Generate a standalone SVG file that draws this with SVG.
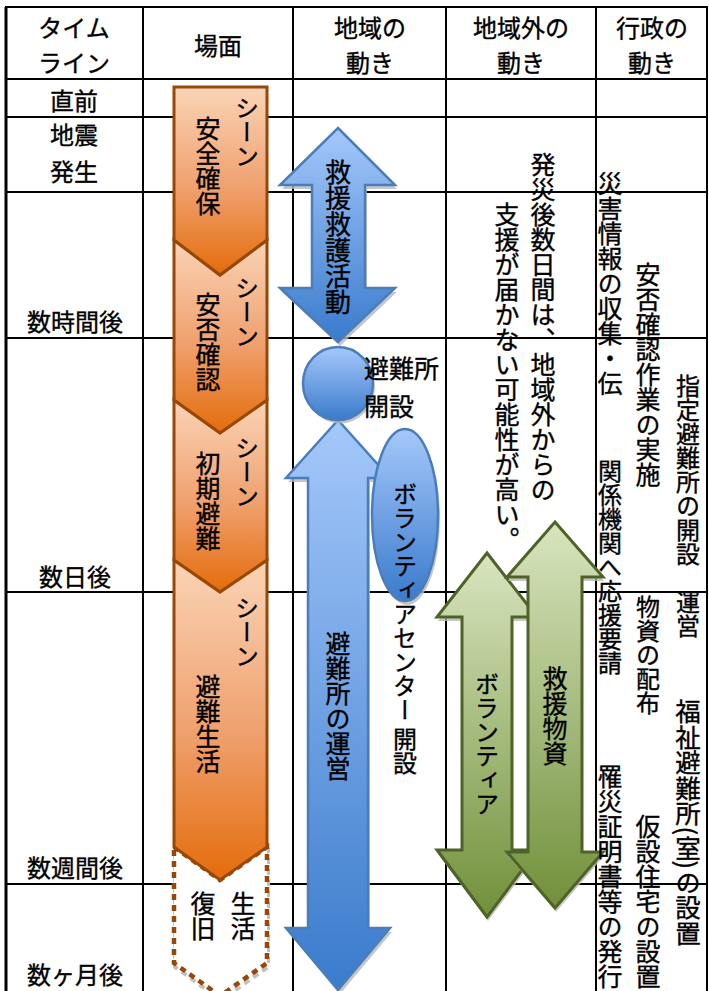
<svg xmlns="http://www.w3.org/2000/svg" width="709" height="991" viewBox="0 0 709 991">
<style>
text{font-family:"Noto Sans CJK JP","Noto Sans CJK SC",sans-serif;fill:#000;stroke:#000;stroke-width:0.35}
.h{font-size:24px;text-anchor:middle;dominant-baseline:central}
.v{writing-mode:vertical-rl;font-size:25px}
.grid line{stroke:#000;stroke-width:2}
.chev{fill:url(#og);stroke:#974706;stroke-width:3;stroke-linejoin:miter}
.blue{fill:url(#bg);stroke:#4a7ebb;stroke-width:2.5}
.green{fill:url(#gg);stroke:#4f6228;stroke-width:3}
.sh{fill:#b8b8b8;opacity:0.8}
</style>
<defs>
<linearGradient id="og" x1="0" y1="0" x2="0" y2="1">
<stop offset="0" stop-color="#fad4b6"/><stop offset="0.55" stop-color="#ef9f6c"/><stop offset="1" stop-color="#e46c0a"/>
</linearGradient>
<linearGradient id="bg" x1="0" y1="0" x2="0" y2="1">
<stop offset="0" stop-color="#a5c8fa"/><stop offset="1" stop-color="#3a7bcc"/>
</linearGradient>
<linearGradient id="gg" x1="0" y1="0" x2="0" y2="1">
<stop offset="0" stop-color="#d8e5bf"/><stop offset="1" stop-color="#71903a"/>
</linearGradient>
</defs>
<rect width="709" height="991" fill="#fff"/>
<g id="table" class="grid">
<line x1="6" y1="7" x2="6" y2="991" style="stroke-width:3"/>
<line x1="143" y1="7" x2="143" y2="991"/>
<line x1="293" y1="7" x2="293" y2="991"/>
<line x1="446" y1="7" x2="446" y2="991"/>
<line x1="596" y1="7" x2="596" y2="991"/>
<line x1="707" y1="7" x2="707" y2="991"/>
<line x1="5" y1="7" x2="708" y2="7"/>
<line x1="5" y1="79" x2="708" y2="79"/>
<line x1="5" y1="117" x2="708" y2="117"/>
<line x1="5" y1="192" x2="708" y2="192"/>
<line x1="5" y1="338" x2="708" y2="338"/>
<line x1="5" y1="592" x2="708" y2="592"/>
<line x1="5" y1="884" x2="708" y2="884"/>
</g>
<g id="header">
<text class="h" x="74" y="26">タイム</text>
<text class="h" x="74" y="61">ライン</text>
<text class="h" x="218" y="44">場面</text>
<text class="h" x="370" y="26">地域の</text>
<text class="h" x="370" y="61">動き</text>
<text class="h" x="521" y="26">地域外の</text>
<text class="h" x="521" y="61">動き</text>
<text class="h" x="652" y="26">行政の</text>
<text class="h" x="652" y="61">動き</text>
</g>
<g id="timeline">
<text class="h" x="74" y="99">直前</text>
<text class="h" x="74" y="133">地震</text>
<text class="h" x="74" y="170">発生</text>
<text class="h" x="75" y="320">数時間後</text>
<text class="h" x="75" y="575">数日後</text>
<text class="h" x="75" y="866">数週間後</text>
<text class="h" x="75" y="973">数ヶ月後</text>
</g>
<g id="scene-5">
<path d="M174,847 L220,880 L267,847 L267,963 L220,996 L174,963 Z" fill="#fff" stroke="#c0c0c0" stroke-width="4" stroke-dasharray="6,5" transform="translate(1,4)"/>
<path d="M174,847 L220,880 L267,847 L267,963 L220,996 L174,963 Z" fill="#fff" stroke="#974706" stroke-width="4.5" stroke-dasharray="6,5"/>
<text class="v" x="243" y="891">生活</text>
<text class="v" x="203" y="891">復旧</text>
</g>
<g id="scene-4">
<path class="chev" d="M174,560 L220,592 L267,560 L267,847 L220,880 L174,847 Z"/>
<text class="v" x="247" y="596" style="font-size:24px">シーン</text>
<text class="v" x="208" y="674">避難生活</text>
</g>
<g id="scene-3">
<path class="chev" d="M174,400 L220,433 L267,400 L267,560 L220,592 L174,560 Z"/>
<text class="v" x="247" y="436" style="font-size:24px">シーン</text>
<text class="v" x="208" y="451">初期避難</text>
</g>
<g id="scene-2">
<path class="chev" d="M174,240 L220,275 L267,240 L267,400 L220,433 L174,400 Z"/>
<text class="v" x="247" y="276" style="font-size:24px">シーン</text>
<text class="v" x="208" y="292">安否確認</text>
</g>
<g id="scene-1">
<path class="chev" d="M174,87 L267,87 L267,240 L220,275 L174,240 Z"/>
<text class="v" x="247" y="96" style="font-size:24px">シーン</text>
<text class="v" x="208" y="116">安全確保</text>
</g>
<g id="rescue">
<path class="sh" transform="translate(2,4)" d="M338,128 L395,185 L365,185 L365,288 L395,288 L338,342 L280,288 L312,288 L312,185 L280,185 Z"/>
<path class="blue" d="M338,128 L395,185 L365,185 L365,288 L395,288 L338,342 L280,288 L312,288 L312,185 L280,185 Z"/>
<text class="v" x="338" y="159" style="font-size:26px">救援救護活動</text>
</g>
<g id="shelter-operation">
<path class="sh" transform="translate(2,4)" d="M338,420 L390,478 L368,478 L368,928 L390,928 L338,990 L286,928 L308,928 L308,478 L286,478 Z"/>
<path class="blue" d="M338,420 L390,478 L368,478 L368,928 L390,928 L338,990 L286,928 L308,928 L308,478 L286,478 Z"/>
<text class="v" x="338" y="631">避難所の運営</text>
</g>
<g id="shelter-open">
<ellipse class="sh" cx="340" cy="387" rx="35" ry="36.5"/>
<ellipse class="blue" cx="338" cy="383.5" rx="35" ry="36.5"/>
<text x="364" y="378" style="font-size:25px">避難所</text>
<text x="364" y="416" style="font-size:25px">開設</text>
</g>
<g id="volunteer-center">
<ellipse class="sh" cx="407" cy="519" rx="33" ry="86"/>
<ellipse class="blue" cx="405" cy="515" rx="33" ry="86"/>
<text class="v" x="405" y="482" style="font-size:24px">ボランティアセンター 開設</text>
</g>
<g id="volunteer">
<path class="sh" transform="translate(1,4)" d="M487,553 L537,617 L512,617 L512,850 L537,850 L487,917 L437,850 L462,850 L462,617 L437,617 Z"/>
<path class="green" d="M487,553 L537,617 L512,617 L512,850 L537,850 L487,917 L437,850 L462,850 L462,617 L437,617 Z"/>
<text class="v" x="487" y="672" style="font-size:24px">ボランティア</text>
</g>
<g id="relief-goods">
<path class="sh" transform="translate(1,4)" d="M555,522 L603,577 L582,577 L582,852 L603,852 L555,908 L507,852 L528,852 L528,577 L507,577 Z"/>
<path class="green" d="M555,522 L603,577 L582,577 L582,852 L603,852 L555,908 L507,852 L528,852 L528,577 L507,577 Z"/>
<text class="v" x="555" y="666">救援物資</text>
</g>
<g id="outside-note">
<text class="v" x="543" y="152">発災後数日間は、地域外からの</text>
<text class="v" x="507" y="202">支援が届かない可能性が高い。</text>
</g>
<g id="admin">
<text class="v" x="610" y="171">災害情報の収集・伝</text>
<text class="v" x="610" y="459" style="font-size:24px">関係機関へ応援要請</text>
<text class="v" x="610" y="764">罹災証明書等の発行</text>
<text class="v" x="648" y="262">安否確認作業の実施</text>
<text class="v" x="648" y="595" style="font-size:24px">物資の配布</text>
<text class="v" x="648" y="814">仮設住宅の設置</text>
<text class="v" x="688" y="374" style="font-size:24px">指定避難所の開設　運営</text>
<text class="v" x="688" y="699" style="font-size:25.5px">福祉避難所(室)の設置</text>
</g>
<g id="connectors"></g>
</svg>
